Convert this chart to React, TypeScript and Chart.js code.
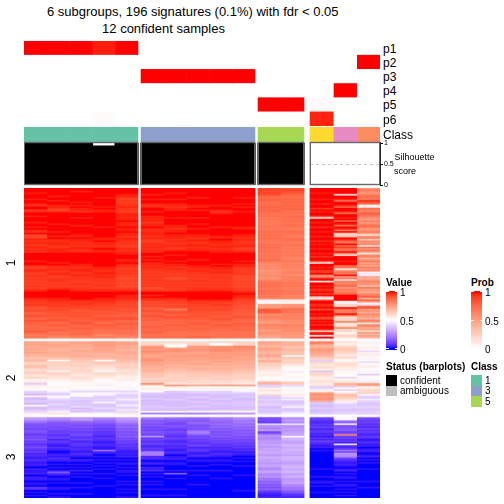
import React, { useEffect, useRef } from "react";
import { Chart, registerables } from "chart.js";

Chart.register(...registerables);

// ---------------- data ----------------
const titleLines = ["6 subgroups, 196 signatures (0.1%) with fdr < 0.05", "12 confident samples"];
const sampleClass = [1, 1, 1, 1, 1, 3, 3, 3, 3, 3, 5, 5, 6, 4, 2];
const probP1 = [1, 1, 1, 0.97, 1, 0, 0, 0, 0, 0, 0, 0, 0, 0, 0];
const probP2 = [0, 0, 0, 0, 0, 0, 0, 0, 0, 0, 0, 0, 0, 0, 1];
const probP3 = [0, 0, 0, 0, 0, 1, 1, 1, 1, 1, 0, 0, 0, 0, 0];
const probP4 = [0, 0, 0, 0, 0, 0, 0, 0, 0, 0, 0, 0, 0, 1, 0];
const probP5 = [0, 0, 0, 0, 0, 0, 0, 0, 0, 0, 1, 1, 0.02, 0, 0];
const probP6 = [0, 0, 0, 0.02, 0, 0, 0, 0, 0, 0, 0, 0, 0.96, 0, 0];
const probRowLabels = ["p1", "p2", "p3", "p4", "p5", "p6"];
const silhouette = [1, 1, 1, 0.94, 1, 1, 1, 1, 1, 1, 1, 1, 0, 0, 0];
const confident = [true, true, true, true, true, true, true, true, true, true, true, true, false, false, false];
const silhouetteTicks = [0, 0.5, 1];
const rowGroupLabels = ["1", "2", "3"];
const valueLegendTicks = [1, 0.5, 0];
const probLegendTicks = [1, 0.5, 0];
const statusLegend = ["confident", "ambiguous"];
const classLegend = [1, 3, 5];

// Heatmap values, one string per sample column. Letter code:
// 'A'..'Z' = 0 .. 0.49, 'a'..'z' = 0.51 .. 1 (index / 51)
const rowGroup1 = [
  "zzzyzzzyzz yxzzwyzzyz zzyzzyzyxz wvxyxyxxyx yxzzzzzyzz xwxyxwxxwx wxwxwxyzzz zyxxwxwuvv utvusvutts tsutrqr",
  "zzzzzyzzyz zyyxvyzzzz zzzyzzzzyz zyzyxyyxxy yyzzzzzzyz yxyxxyxwxx xwxwxyzzzz zyyxxwxvwv vuvtuvtsut sttrsqp",
  "zzyzzzzzzy zyzyyxzzzy zzzzyzzzzz yyzyyxyxyy xyzzzzzzzy yxyyxxyxxx wxxwxxyzzz zzyxxxwwvu vuvuutuvts utsstrq",
  "zzzzzzyzzz zzyzyyzzzz zzzzzyzzzz zzyyzyyxyz yyzzzzzzzz zyyxyyxyxx xwxxwxyzzz zyyxxwwvwu uvtuvutsut tsrsqpq",
  "zzzzyyxwxw xxyxxwyyyy yzyyyzyyzy yxyyxxxwxy xyyzzzyyzy xxwxwxwwvw wvwvwxyzzy yyxwwvwvuv uutuvtsuts tsrsrqp",
  "zzzzyzzyzz yxyzzyzzyy yyxyyzyxyy yxyxwxyxyx yxzzyzyzyy xyxxwxwxwx wxwxvwxzzy zyxvwvwtuv utvutustsu tsttsrs",
  "zzzyzzzyzz yyxyyzzzzy zzzzyyxyyz yyyxyxxyxx yzzyzzzyzy yxyxxwxwvw xwxwxwxzzz zyxwwvwvpu vutvuttsut stsrsrs",
  "zzzzzzyzzz zyyzyzzzzy zzzyzzyzzz yyxyyxyyxy yzzzzzyzzz yyxyxxwxwx xwxwxxyzzz zzyxxwwvwv vuvuuttuts ttssrst",
  "zzzzzzzzzz zyzzyxyzzz zzzzzyzzzz zyyzyyxyyx yyzzzzzzzy zyyxyxwxxw xwxwxxyzzz zzyxwxwvwv uvutvutsut tssrsrr",
  "zzzzzzyzzz yzyzzyzzzz zzzzzyyzzz yyxyxxxyxw xyzzzzzyzy yxwxwxwvwv wvwvwwxyzy yxwwvvuvuu utuvttsutt stsrsrr",
  "wwvwvtsttr sststssrsq rqrqrrqrsr srsrrqsrsr rsqrrqsrpo popnonponp rsrsrqsrsq rpYbanmnuu uopqpomnqo pnmonml",
  "vwvutsstst ststsrsrss rsrrsrqrsr rqrsrqrrqr qrqrqpqrpq pqopqpoqpq qrqrqqrqrp qpbcaonpsr rpqpqopnqp popnomn",
  "zzzyzzzyzz yzzxzyzzwc zzyzzxzzyz zyzzxzyzzy zzyzxzzwbz zyzxwzpoyz bzzyzxyzwz hYuzzxyzuz zyzwvzyzxz zycyzbz",
  "zzzzdzzyqz zyrzzyqzzy zrzyszyqzh fizysrzsxr szqazzzyzz qsaosqzmsc qorsnqprsz zzzbZgezsq qzrcgeqdcg qefbcgd",
  "nrpmqsrqyu racsqpusqo mqnpsrmoqn coqhpnqcsn rmdpqjnrmo lqnpbXYmjn ponhrmnkpq ujunbWsvmo kpnmjqobpo kmdnimj",
];
const rowGroup2 = [
  "mlmkllkmjk hijgfhigef gedfcbdUcb aZVUSaTSUT RaTSUVc",
  "lkmlkjkljk ihahfgefeZ gfedcbaZab ZaYVUZYVUT VUTUVYd",
  "lmkljklkjl jihgfgfeff edcedcbaba ZYVaZaUVTU TUVSUTb",
  "nmnmlmlkjk jiZhgfedcZ fedcbaZbYa ZYVZYVUVUZ UTUVTUb",
  "lmlkljklkj kjihgfgfed edcbcbaZab ZYVYVUVYVU VYUVYVc",
  "fegnompnml mnolmlkjkj ihhgfgfpea cbaUTSTUST STUTSaM",
  "fdaamnomln mlmkljkjih hgfgfgedoc bZUTSTSUTS TSUTSaM",
  "efgnmonlmn lmlkmkjkji hghfgefdmb aZVUSTUSTU STUSTaM",
  "gaaonpomnm nmlmkljkji ihgfgfedoa baVUTSTUST USTSUaN",
  "ffgpoonmnm lmlkljkjih hgfgfedcnb aZYUTUTSTU TUSTUaO",
  "mlkjmlkjkm jhkjfheedc bcbaZbkjUV bdcaeUTVUT VUSTUTV",
  "kjkihjihia hgfgecbaZb YaZbaZhgVY ZbaZcaVYUT UVYUTVY",
  "qpkjlnmlkj hfUfecedcT efdcbedcdU VbcnomnolT USTUSTU",
  "ebcfghgfdc gbaceedbca bZaVbcdkjV aUZdihgecY VUVUTUV",
  "bYabcaVbcY abZVabcaZY aUbaZYbmnb cfegZVUYVU TUVUTVU",
];
const rowGroup3 = [
  "POMJHGHFGH FEGFHEFDEG EDFCDCBDCB CBACBBCABC BABBAEDABA BA",
  "NMKHGHFGFE FDEFCEDCBD CBABCBDCBA BABABIDBAB BABAABBAAB AB",
  "OPLIHGHFGE FGEDFCDEDC DCBDCBACBA BABACABABA AABAABAAAB AA",
  "NLJIGFGEFD EDCEDCBDCB BKCBABABAB ABABAABAAB AAAABAAAAA AA",
  "PONLJIJHIG HGIFGEFDED DCBCBCABAB BABABBABAA ABABAABABA AB",
  "LJHIGHFGFH GFOEFDEFCD EDMLMCDBAC BACBDABABA ABABAABAAA BA",
  "KIHGFHGFEG FEDFECDECD CBDCABCBAB BAAABAIAAB AAAAAABAAA BA",
  "JIHJIGHGIM LHFGEFDEFC DECBDCABBA ABAABAABAA AAABAAAAAA AA",
  "LKJIKIJHIG HGIFGEFDEC DCBDCBABBA BAAABAAAAB AAAAAAAAAA AA",
  "NMKLJKIJHI HIGHFGEFDE CDBCBABABA ABAAAAABAA AAAAAAABAA AA",
  "FGFEWONMQF GNOMNPOQPO QPRQOQRPQO PQOMPQNMOK LIJHIGJFDC BC",
  "NOPMYONPOP QPZSRQPRSQ RSQRPRSRQP QRSQRSPQRP OPQNMKLIHE DC",
  "FEDCEDFCDE CDBECFDCBC ABAAAAAAAA AAABAAAABA ABBABAAABA AA",
  "bZKIaHGHIE GpEFDECaDC EKFONMFDCB CBABCABABB ABABBABABA BA",
  "GFEFDECFDE DCEDBCDBCA BCBABCABAB AAABAAAAAA ABAAABAAAA AA",
];
const rowGroupSizes = [97, 47, 52];

// ---------------- layout & style ----------------
const FONT = '"Liberation Sans", Arial, Helvetica, sans-serif';
const COL_W = [22.8, 22.8, 22.8, 22.8, 22.8, 22.8, 22.8, 22.8, 22.8, 22.8, 23, 23, 23.33, 23.33, 23.34];
const GAP_AFTER: Record<number, number> = { 4: 3, 9: 3, 11: 6 };
const COL_GROUPS = [[0, 1, 2, 3, 4], [5, 6, 7, 8, 9], [10, 11], [12, 13, 14]];
const BODY_LEFT = 24;
const BODY_W = 356;
const ROW_GAP = 2; // blank row slots between row groups
const HEAT_ROW_PX = 2; // backing-store pixels per row (drawn crisp, then shown at 310px)
const CLASS_COLORS: Record<number, string> = {
  1: "#66C2A5", 2: "#FC8D62", 3: "#8DA0CB", 4: "#E78AC3", 5: "#A6D854", 6: "#FFD92F",
};

const colStart: number[] = [];
(() => {
  let acc = 0;
  for (let c = 0; c < COL_W.length; c++) {
    colStart.push(acc);
    acc += COL_W[c];
    if (GAP_AFTER[c]) acc += GAP_AFTER[c];
  }
})();
const groupRanges: [number, number][] = COL_GROUPS.map((g) => [colStart[g[0]], colStart[g[g.length - 1]] + COL_W[g[g.length - 1]]]);

// ---------------- colours (LAB interpolation like colorRamp2) ----------------
const hexToRgb = (h: string) => [1, 3, 5].map((i) => parseInt(h.slice(i, i + 2), 16));
const toLin = (c: number) => {
  c /= 255;
  return c <= 0.04045 ? c / 12.92 : Math.pow((c + 0.055) / 1.055, 2.4);
};
const toS = (c: number) => {
  const v = c <= 0.0031308 ? 12.92 * c : 1.055 * Math.pow(Math.max(c, 0), 1 / 2.4) - 0.055;
  return Math.round(Math.min(1, Math.max(0, v)) * 255);
};
function rgb2lab(rgb: number[]) {
  const R = toLin(rgb[0]), G = toLin(rgb[1]), B = toLin(rgb[2]);
  const X = (0.4124564 * R + 0.3575761 * G + 0.1804375 * B) / 0.95047;
  const Y = 0.2126729 * R + 0.7151522 * G + 0.072175 * B;
  const Z = (0.0193339 * R + 0.119192 * G + 0.9503041 * B) / 1.08883;
  const f = (t: number) => (t > 0.008856 ? Math.cbrt(t) : 7.787 * t + 16 / 116);
  const fx = f(X), fy = f(Y), fz = f(Z);
  return [116 * fy - 16, 500 * (fx - fy), 200 * (fy - fz)];
}
function lab2rgb(lab: number[]) {
  const fy = (lab[0] + 16) / 116, fx = fy + lab[1] / 500, fz = fy - lab[2] / 200;
  const inv = (t: number) => (t > 0.206893 ? t * t * t : (t - 16 / 116) / 7.787);
  const X = inv(fx) * 0.95047, Y = inv(fy), Z = inv(fz) * 1.08883;
  const R = 3.2404542 * X - 1.5371385 * Y - 0.4985314 * Z;
  const G = -0.969266 * X + 1.8760108 * Y + 0.041556 * Z;
  const B = 0.0556434 * X - 0.2040259 * Y + 1.0572252 * Z;
  return [toS(R), toS(G), toS(B)];
}
function toHex(rgb: number[]) {
  return "#" + rgb.map((v) => v.toString(16).padStart(2, "0")).join("");
}
function ramp(breaks: number[], colors: string[]) {
  const labs = colors.map((c) => rgb2lab(hexToRgb(c)));
  return (v: number) => {
    const x = Math.min(breaks[breaks.length - 1], Math.max(breaks[0], v));
    let i = 0;
    while (i < breaks.length - 2 && x > breaks[i + 1]) i++;
    const t = (x - breaks[i]) / (breaks[i + 1] - breaks[i]);
    const lab = labs[i].map((a, k) => a + (labs[i + 1][k] - a) * t);
    return toHex(lab2rgb(lab));
  };
}
const valueColor = ramp([0, 0.5, 1], ["#0000FF", "#FFFFFF", "#FF0000"]);
const probColor = ramp([0, 1], ["#FFFFFF", "#FF0000"]);

const decode = (ch: string | undefined) => {
  if (!ch) return null;
  const code = ch.charCodeAt(0);
  const idx = code >= 97 ? code - 97 + 26 : code - 65;
  return idx / 51;
};

const baseOptions = {
  animation: false,
  responsive: false,
  devicePixelRatio: 1,
  events: [],
  layout: { padding: 0 },
  plugins: { legend: { display: false }, tooltip: { enabled: false }, title: { display: false } },
};

// heatmap / annotation strips: horizontal stacked bars, one dataset per sample column
function stripChart(canvas: HTMLCanvasElement, labels: string[], cellColor: (c: number, r: number) => string, inflate: number) {
  const datasets: any[] = [];
  for (let c = 0; c < COL_W.length; c++) {
    datasets.push({
      label: "S" + (c + 1),
      data: labels.map(() => COL_W[c]),
      backgroundColor: labels.map((_, r) => cellColor(c, r)),
      borderWidth: 0,
      barPercentage: 1,
      categoryPercentage: 1,
      inflateAmount: inflate,
    });
    if (GAP_AFTER[c]) {
      datasets.push({
        label: "gap" + c,
        data: labels.map(() => GAP_AFTER[c]),
        backgroundColor: "rgba(0,0,0,0)",
        borderWidth: 0,
        barPercentage: 1,
        categoryPercentage: 1,
        inflateAmount: 0,
      });
    }
  }
  return new Chart(canvas, {
    type: "bar",
    data: { labels, datasets },
    options: {
      ...baseOptions,
      indexAxis: "y",
      scales: {
        x: { stacked: true, display: false, min: 0, max: BODY_W },
        y: { stacked: true, display: false, ticks: { display: false } },
      },
    },
  } as any);
}

const silBoxPlugin = {
  id: "silBoxes",
  beforeDatasetsDraw(chart: any) {
    const { ctx, scales } = chart;
    const y = Math.round(scales.y.getPixelForValue(0.5)) + 0.5;
    ctx.save();
    ctx.setLineDash([3, 3]);
    ctx.strokeStyle = "#C8C8C8";
    ctx.lineWidth = 1;
    groupRanges.forEach(([a, b]) => {
      ctx.beginPath();
      ctx.moveTo(scales.x.getPixelForValue(a), y);
      ctx.lineTo(scales.x.getPixelForValue(b), y);
      ctx.stroke();
    });
    ctx.restore();
  },
  afterDatasetsDraw(chart: any) {
    const { ctx, scales, chartArea } = chart;
    ctx.save();
    ctx.strokeStyle = "#666666";
    ctx.lineWidth = 1.4;
    groupRanges.forEach(([a, b]) => {
      const x0 = scales.x.getPixelForValue(a);
      const x1 = scales.x.getPixelForValue(b);
      ctx.strokeRect(x0 + 0.3, chartArea.top + 0.5, x1 - x0 - 0.6, chartArea.bottom - chartArea.top - 1);
    });
    ctx.restore();
  },
};

// ---------------- text helper ----------------
function Txt(props: { x: number; y: number; text: string; size: number; bold?: boolean; center?: boolean; rotate?: boolean }) {
  const { x, y, text, size, bold, center, rotate } = props;
  const tx = center || rotate ? "-50%" : "0";
  return (
    <div
      style={{
        position: "absolute",
        left: x,
        top: y,
        fontSize: size,
        lineHeight: 1,
        fontWeight: bold ? "bold" : "normal",
        whiteSpace: "nowrap",
        color: "#000",
        transform: `translate(${tx}, -50%)${rotate ? " rotate(-90deg)" : ""}`,
      }}
    >
      {text}
    </div>
  );
}

function gradientCss(fn: (v: number) => string, top: number, height: number, y1: number, y0: number) {
  const stops: string[] = [];
  for (let i = 0; i <= 20; i++) {
    const v = 1 - i / 20;
    const y = y1 + (y0 - y1) * (1 - v);
    stops.push(`${fn(v)} ${(((y - top) / height) * 100).toFixed(2)}%`);
  }
  return `linear-gradient(to bottom, ${fn(1)} 0%, ${stops.join(", ")}, ${fn(0)} 100%)`;
}

const heatSlots = rowGroupSizes.reduce((a, b) => a + b, 0) + ROW_GAP * (rowGroupSizes.length - 1);

export default function App() {
  const heatRef = useRef<HTMLCanvasElement>(null);
  const probRef = useRef<HTMLCanvasElement>(null);
  const classRef = useRef<HTMLCanvasElement>(null);
  const silRef = useRef<HTMLCanvasElement>(null);

  useEffect(() => {
    const charts: Chart[] = [];
    const groups = [rowGroup1, rowGroup2, rowGroup3].map((g) => g.map((s) => s.replace(/\s+/g, "")));

    // heatmap rows (with blank rows between row groups)
    const rowEntries: ({ g: number; r: number } | null)[] = [];
    rowGroupSizes.forEach((n, g) => {
      for (let r = 0; r < n; r++) rowEntries.push({ g, r });
      if (g < rowGroupSizes.length - 1) for (let k = 0; k < ROW_GAP; k++) rowEntries.push(null);
    });
    const heatLabels = rowEntries.map((e, i) => (e ? `g${e.g + 1}r${e.r + 1}` : `gap${i}`));
    if (heatRef.current) {
      charts.push(
        stripChart(
          heatRef.current,
          heatLabels,
          (c, r) => {
            const e = rowEntries[r];
            if (!e) return "rgba(0,0,0,0)";
            const v = decode(groups[e.g][c][e.r]);
            return v === null ? "rgba(0,0,0,0)" : valueColor(v);
          },
          0.35
        )
      );
    }

    const probRows = [probP1, probP2, probP3, probP4, probP5, probP6];
    if (probRef.current) {
      charts.push(stripChart(probRef.current, probRowLabels, (c, r) => probColor(probRows[r][c]), 0.3));
    }
    if (classRef.current) {
      charts.push(stripChart(classRef.current, ["Class"], (c) => CLASS_COLORS[sampleClass[c]], 0.3));
    }

    if (silRef.current) {
      charts.push(
        new Chart(silRef.current, {
          type: "bar",
          data: {
            datasets: [
              {
                label: "Silhouette",
                data: silhouette.map((v, i) => ({ x: colStart[i] + COL_W[i] / 2, y: v })),
                backgroundColor: confident.map((c) => (c ? "#000000" : "#BEBEBE")),
                borderWidth: 0,
                barThickness: 23.6,
              },
            ],
          },
          options: {
            ...baseOptions,
            layout: { padding: { top: 4, bottom: 4, left: 0, right: 0 } },
            scales: {
              x: { type: "linear", display: false, min: 0, max: BODY_W, offset: false, grid: { offset: false } },
              y: {
                position: "right",
                min: 0,
                max: 1.03,
                grid: { drawOnChartArea: false, drawTicks: true, tickLength: 3, color: "#000" },
                border: { display: true, color: "#000", width: 1 },
                ticks: {
                  font: { size: 7, family: FONT },
                  color: "#000",
                  padding: 1,
                  callback: (v: any) => String(v),
                },
                afterBuildTicks: (s: any) => {
                  s.ticks = silhouetteTicks.map((v) => ({ value: v }));
                },
                afterFit: (s: any) => {
                  s.width = 30;
                  s.paddingTop = 0;
                  s.paddingBottom = 0;
                },
              },
            },
          },
          plugins: [silBoxPlugin],
        } as any)
      );
    }
    return () => charts.forEach((c) => c.destroy());
  }, []);

  const canvasStyle = (left: number, top: number, w: number, h: number) =>
    ({ position: "absolute", left, top, width: w, height: h } as React.CSSProperties);

  const probRowTop = 41.3;
  const probRowH = 14.15;
  const legendTickYs = [291.5, 320, 348.5];

  return (
    <div
      style={{
        position: "absolute",
        left: 0,
        top: 0,
        width: 504,
        height: 504,
        background: "#fff",
        overflow: "hidden",
        fontFamily: FONT,
      }}
    >
      <Txt x={192.7} y={10.5} text={titleLines[0]} size={13} center />
      <Txt x={163.5} y={28} text={titleLines[1]} size={13} center />

      <canvas ref={probRef} width={BODY_W} height={85} style={canvasStyle(BODY_LEFT, 41, BODY_W, 85)} />
      <canvas ref={classRef} width={BODY_W} height={15} style={canvasStyle(BODY_LEFT, 127, BODY_W, 15)} />
      <canvas ref={silRef} width={BODY_W + 30} height={51} style={canvasStyle(BODY_LEFT, 138, BODY_W + 30, 51)} />
      <canvas
        ref={heatRef}
        width={BODY_W}
        height={heatSlots * HEAT_ROW_PX}
        style={canvasStyle(BODY_LEFT, 188, BODY_W, 310)}
      />

      {probRowLabels.map((p, i) => (
        <Txt key={p} x={383} y={probRowTop + probRowH * i + probRowH / 2 + 0.5} text={p} size={12} />
      ))}
      <Txt x={383} y={135} text="Class" size={12} />
      <Txt x={394.5} y={157} text="Silhouette" size={9} />
      <Txt x={394} y={170.5} text="score" size={9} />

      <Txt x={11} y={263} text={rowGroupLabels[0]} size={12} rotate />
      <Txt x={11} y={378} text={rowGroupLabels[1]} size={12} rotate />
      <Txt x={11} y={457} text={rowGroupLabels[2]} size={12} rotate />

      {/* Value legend */}
      <Txt x={386} y={282.5} text="Value" size={10} bold />
      <div
        style={{
          position: "absolute",
          left: 386,
          top: 290.7,
          width: 11,
          height: 59.3,
          background: gradientCss(valueColor, 290.7, 59.3, 291.5, 348.5),
        }}
      />
      {legendTickYs.map((y, i) => (
        <React.Fragment key={"vt" + i}>
          <div style={{ position: "absolute", left: 386, top: y - 0.5, width: 2.5, height: 1, background: "#fff" }} />
          <div style={{ position: "absolute", left: 394.5, top: y - 0.5, width: 2.5, height: 1, background: "#fff" }} />
          <Txt x={400} y={y + 1.5} text={String(valueLegendTicks[i])} size={10} />
        </React.Fragment>
      ))}

      {/* Prob legend */}
      <Txt x={471} y={282.5} text="Prob" size={10} bold />
      <div
        style={{
          position: "absolute",
          left: 471,
          top: 290.7,
          width: 11,
          height: 59.3,
          background: gradientCss(probColor, 290.7, 59.3, 291.5, 348.5),
        }}
      />
      {legendTickYs.map((y, i) => (
        <React.Fragment key={"pt" + i}>
          <div style={{ position: "absolute", left: 471, top: y - 0.5, width: 2.5, height: 1, background: "#fff" }} />
          <div style={{ position: "absolute", left: 479.5, top: y - 0.5, width: 2.5, height: 1, background: "#fff" }} />
          <Txt x={485} y={y + 1.5} text={String(probLegendTicks[i])} size={10} />
        </React.Fragment>
      ))}

      {/* Status legend */}
      <Txt x={386} y={366.5} text="Status (barplots)" size={10} bold />
      {statusLegend.map((s, i) => (
        <React.Fragment key={s}>
          <div
            style={{
              position: "absolute",
              left: 386,
              top: 375 + i * 10.6,
              width: 11,
              height: 10.6,
              background: i === 0 ? "#000000" : "#BEBEBE",
            }}
          />
          <Txt x={400} y={380.5 + i * 10.6} text={s} size={10} />
        </React.Fragment>
      ))}

      {/* Class legend */}
      <Txt x={471} y={366.5} text="Class" size={10} bold />
      {classLegend.map((k, i) => (
        <React.Fragment key={"cl" + k}>
          <div
            style={{
              position: "absolute",
              left: 471,
              top: 375 + i * 10.6,
              width: 11,
              height: 10.6,
              background: CLASS_COLORS[k],
            }}
          />
          <Txt x={485} y={380.5 + i * 10.6} text={String(k)} size={10} />
        </React.Fragment>
      ))}
    </div>
  );
}
